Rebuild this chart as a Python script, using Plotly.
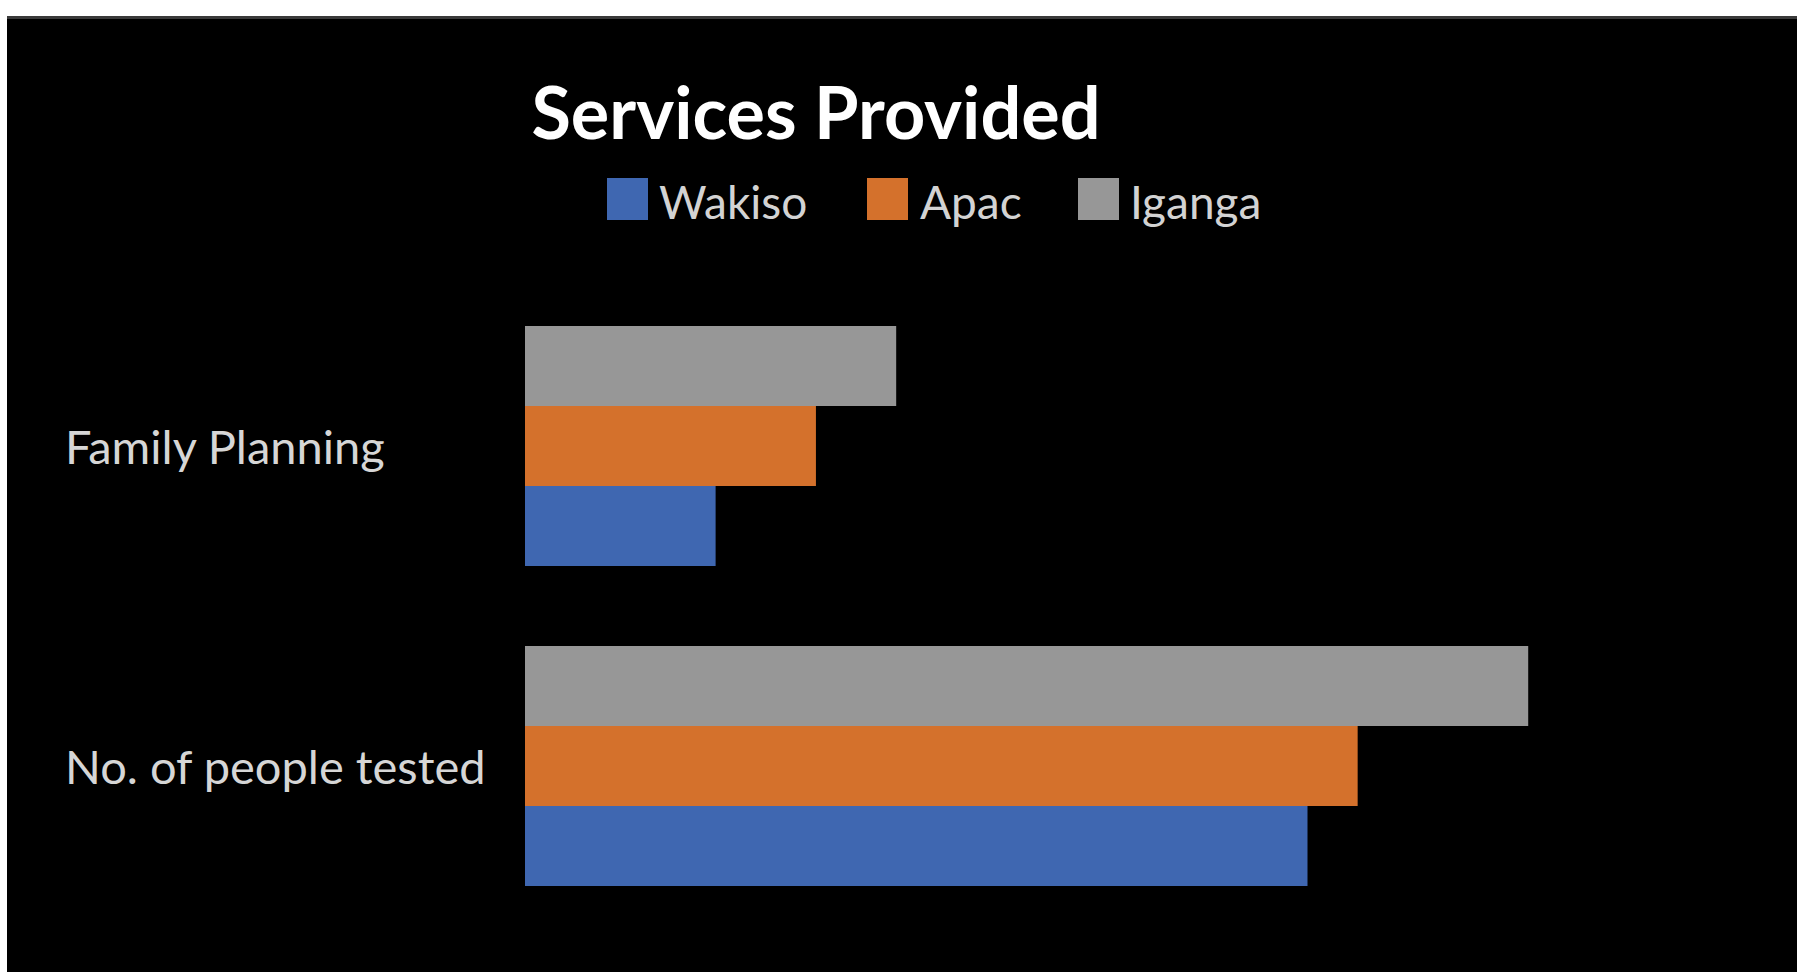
import plotly.graph_objects as go

# ---- data ----
categories = ["No. of people tested", "Family Planning"]  # bottom -> top
series_names = ["Wakiso", "Apac", "Iganga"]
wakiso = [78, 19]
apac = [83, 29]
iganga = [100, 37]
series_values = [wakiso, apac, iganga]
colors = ["#3F67B1", "#D4712C", "#979797"]

title_text = "Services Provided"

# ---- layout geometry (pixels) ----
FIG_W, FIG_H = 1797, 972
L, T, W, H = 525, 286, 1250, 640


def px(x):
    return (x - L) / W


def py(y):
    return (T + H - y) / H


fig = go.Figure()
for name, vals, col in zip(series_names, series_values, colors):
    fig.add_trace(go.Bar(
        y=categories, x=vals, name=name, orientation="h",
        marker=dict(color=col, line=dict(width=0)),
        showlegend=False, hoverinfo="x+name",
    ))

shapes = [
    # black chart background with white border at top/left
    dict(type="rect", xref="paper", yref="paper", layer="below",
         x0=px(7), x1=px(FIG_W + 20), y0=py(FIG_H + 20), y1=py(16),
         fillcolor="black", line=dict(width=0)),
    dict(type="line", xref="paper", yref="paper", layer="below",
         x0=px(7), x1=px(FIG_W + 20), y0=py(17.5), y1=py(17.5),
         line=dict(color="#3a3a3a", width=3)),
]

annotations = []
# category labels, left aligned
for cat in categories:
    annotations.append(dict(
        xref="paper", yref="y", x=px(63), y=cat, xanchor="left", yanchor="middle",
        text=cat, showarrow=False,
        font=dict(family="Lato", size=47, color="#D6D6D6"),
    ))

# custom legend
legend_sq_x = [607, 867, 1078]
legend_txt_x = [657, 918, 1128]
sq_top, sq_bot = 178, 220
for name, col, sx, tx in zip(series_names, colors, legend_sq_x, legend_txt_x):
    shapes.append(dict(
        type="rect", xref="paper", yref="paper",
        x0=px(sx), x1=px(sx + 41), y0=py(sq_bot), y1=py(sq_top),
        fillcolor=col, line=dict(width=0),
    ))
    annotations.append(dict(
        xref="paper", yref="paper", x=px(tx), y=py(201), xanchor="left", yanchor="middle",
        text=name, showarrow=False,
        font=dict(family="Lato", size=46, color="#D3D3D3"),
    ))

fig.update_layout(
    width=FIG_W, height=FIG_H,
    margin=dict(l=L, r=FIG_W - L - W, t=T, b=FIG_H - T - H, pad=0),
    paper_bgcolor="white", plot_bgcolor="black",
    barmode="group", bargap=0.25, bargroupgap=0,
    title=dict(text="<b>" + title_text + "</b>", xref="container", yref="container",
               x=816 / FIG_W, y=1 - 114 / FIG_H, xanchor="center", yanchor="middle",
               font=dict(family="Lato", size=72, color="white")),
    xaxis=dict(range=[0, 124.6], visible=False, showgrid=False, zeroline=False, fixedrange=True),
    yaxis=dict(categoryorder="array", categoryarray=categories, range=[-0.5, 1.5],
               visible=False, showgrid=False, zeroline=False),
    shapes=shapes, annotations=annotations,
    showlegend=False,
)

fig.write_html(
    "out.html",
    config={"displayModeBar": False},
    post_script="document.body.style.margin='0';document.documentElement.style.overflow='hidden';",
)
